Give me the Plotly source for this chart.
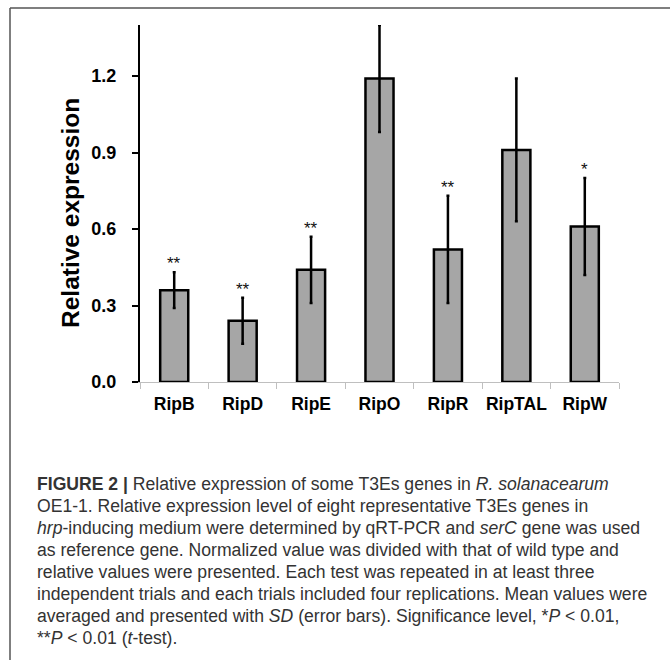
import plotly.graph_objects as go

genes = ["RipB", "RipD", "RipE", "RipO", "RipR", "RipTAL", "RipW"]
means = [0.36, 0.24, 0.44, 1.19, 0.52, 0.91, 0.61]
sds = [0.07, 0.09, 0.13, 0.21, 0.21, 0.28, 0.19]
signif = ["**", "**", "**", "", "**", "", "*"]
yticks = [0.0, 0.3, 0.6, 0.9, 1.2]

caption_lines = [
    "<b>FIGURE 2 |</b> Relative expression of some T3Es genes in <i>R. solanacearum</i>",
    "OE1-1. Relative expression level of eight representative T3Es genes in",
    "<i>hrp</i>-inducing medium were determined by qRT-PCR and <i>serC</i> gene was used",
    "as reference gene. Normalized value was divided with that of wild type and",
    "relative values were presented. Each test was repeated in at least three",
    "independent trials and each trials included four replications. Mean values were",
    "averaged and presented with <i>SD</i> (error bars). Significance level, *<i>P</i> &lt; 0.01,",
    "**<i>P</i> &lt; 0.01 (<i>t</i>-test).",
]

W, H = 670, 660
L, R, T, B = 140, 51, 25, 278
pw, ph = W - L - R, H - T - B

def px_to_paper_x(x):
    return (x - L) / pw

def px_to_paper_y(y):
    return (H - B - y) / ph

font_fam = "Liberation Sans, Arial, sans-serif"

fig = go.Figure()
fig.add_trace(go.Bar(
    x=genes, y=means,
    marker=dict(color="#a6a6a6", line=dict(color="black", width=2.5)),
    width=0.41,
    error_y=dict(type="data", array=sds, visible=True, color="black",
                 thickness=2.5, width=1.5),
    showlegend=False,
))

annotations = []
for g, m, s, sig in zip(genes, means, sds, signif):
    if sig:
        annotations.append(dict(
            x=g, y=m + s, xref="x", yref="y", text=sig, showarrow=False,
            yanchor="bottom", yshift=-3,
            font=dict(family=font_fam, size=17, color="#111111"),
        ))

# y-axis title
annotations.append(dict(
    x=px_to_paper_x(70), y=px_to_paper_y(213), xref="paper", yref="paper",
    text="<b>Relative expression</b>", textangle=-90, showarrow=False,
    xanchor="center", yanchor="middle",
    font=dict(family=font_fam, size=24.5, color="black"),
))

y0 = 484
dy = 22.0
for i, line in enumerate(caption_lines):
    annotations.append(dict(
        x=px_to_paper_x(35), y=px_to_paper_y(y0 + i * dy),
        xref="paper", yref="paper", text=line, showarrow=False,
        xanchor="left", yanchor="middle", align="left",
        font=dict(family=font_fam, size=17.6, color="#333333"),
    ))

shapes = [
    dict(type="line", xref="paper", yref="paper",
         x0=px_to_paper_x(10), x1=px_to_paper_x(10),
         y0=px_to_paper_y(665), y1=px_to_paper_y(8),
         line=dict(color="#555555", width=1.5)),
    dict(type="line", xref="paper", yref="paper",
         x0=px_to_paper_x(10), x1=px_to_paper_x(675),
         y0=px_to_paper_y(8), y1=px_to_paper_y(8),
         line=dict(color="#555555", width=1.5)),
]

fig.update_layout(
    width=W, height=H,
    margin=dict(l=L, r=R, t=T, b=B),
    paper_bgcolor="white", plot_bgcolor="white",
    font=dict(family=font_fam, color="black"),
    annotations=annotations,
    shapes=shapes,
    bargap=0.59,
)
fig.update_xaxes(
    type="category", range=[-0.5, 6.5],
    showline=True, linecolor="#bfbfbf", linewidth=1,
    ticks="outside", tickson="boundaries", ticklen=6, tickcolor="#bfbfbf", tickwidth=1,
    tickangle=0,
    tickfont=dict(family=font_fam, size=17.5, color="black", weight="bold"),
    ticklabelstandoff=6,
    showgrid=False, zeroline=False,
)
fig.update_yaxes(
    range=[0, 1.4],
    tickvals=yticks, ticktext=[f"{v:.1f}" for v in yticks],
    showline=True, linecolor="black", linewidth=2,
    ticks="outside", ticklen=6, tickcolor="black", tickwidth=2,
    tickfont=dict(family=font_fam, size=18, color="black", weight="bold"),
    ticklabelstandoff=12,
    showgrid=False, zeroline=False,
)

fig.write_html("out.html")
